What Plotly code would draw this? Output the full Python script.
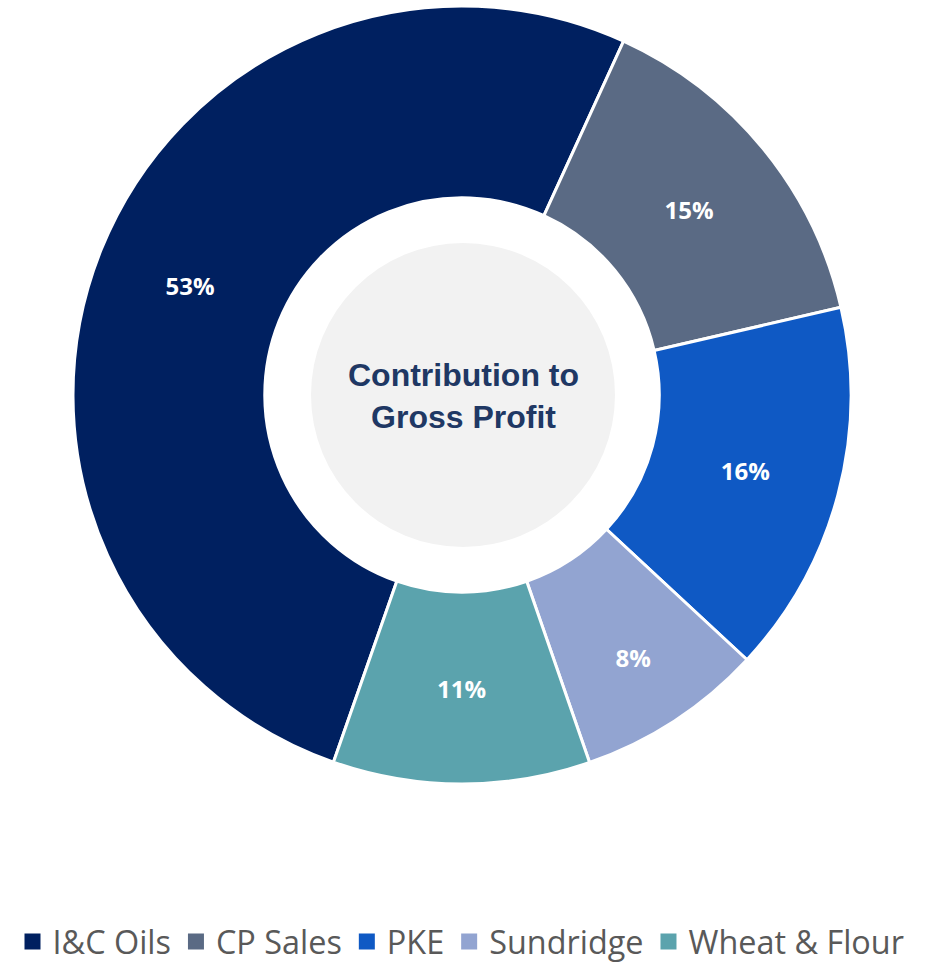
import plotly.graph_objects as go

# Contribution to gross profit by business line (percent)
segments = ["I&C Oils", "CP Sales", "PKE", "Sundridge", "Wheat & Flour"]
shares = [53, 15, 16, 8, 11]
colors = ["#002060", "#5A6A84", "#0F59C4", "#92A4D1", "#5BA3AD"]

W, H = 932, 970
cx, cy, r_dom = 462, 395, 389      # donut centre and outer radius (px)
r_disc = 152                       # grey centre disc radius (px)

fig = go.Figure()

fig.add_trace(go.Pie(
    labels=segments,
    values=shares,
    sort=False,
    direction="clockwise",
    rotation=-160.7,
    hole=0.507,
    marker=dict(colors=colors, line=dict(color="white", width=3)),
    texttemplate="%{value}%",
    textposition="inside",
    insidetextorientation="horizontal",
    textfont=dict(family="Open Sans", size=24, color="white", weight="bold"),
    showlegend=False,
    hoverinfo="label+value",
    domain=dict(x=[(cx - r_dom) / W, (cx + r_dom) / W],
                y=[1 - (cy + r_dom) / H, 1 - (cy - r_dom) / H]),
))

# legend entries with square swatches
for name, col in zip(segments, colors):
    fig.add_trace(go.Scatter(
        x=[None], y=[None], mode="markers", name=name,
        marker=dict(symbol="square", size=16, color=col, line=dict(width=0)),
        showlegend=True, hoverinfo="skip",
    ))

fig.add_shape(
    type="circle", xref="paper", yref="paper", layer="below",
    x0=(cx + 1 - r_disc) / W, x1=(cx + 1 + r_disc) / W,
    y0=1 - (cy + r_disc) / H, y1=1 - (cy - r_disc) / H,
    fillcolor="#F2F2F2", line=dict(width=0),
)

fig.add_annotation(
    x=(cx + 1) / W, y=1 - (cy + 1) / H, xref="paper", yref="paper",
    text="<b>Contribution to<br>Gross Profit</b>", showarrow=False,
    font=dict(family="Liberation Sans, Arial", size=32, color="#1F3864"),
    align="center",
)

fig.update_layout(
    width=W, height=H,
    margin=dict(l=0, r=0, t=0, b=0),
    paper_bgcolor="white", plot_bgcolor="white",
    xaxis=dict(visible=False), yaxis=dict(visible=False),
    legend=dict(
        orientation="h", x=0.5 - 5 / W, xanchor="center", y=0, yanchor="bottom",
        font=dict(family="Open Sans", size=32.4, color="#595959"),
        itemclick=False, bgcolor="rgba(0,0,0,0)",
    ),
)

fig.write_html("out.html")
